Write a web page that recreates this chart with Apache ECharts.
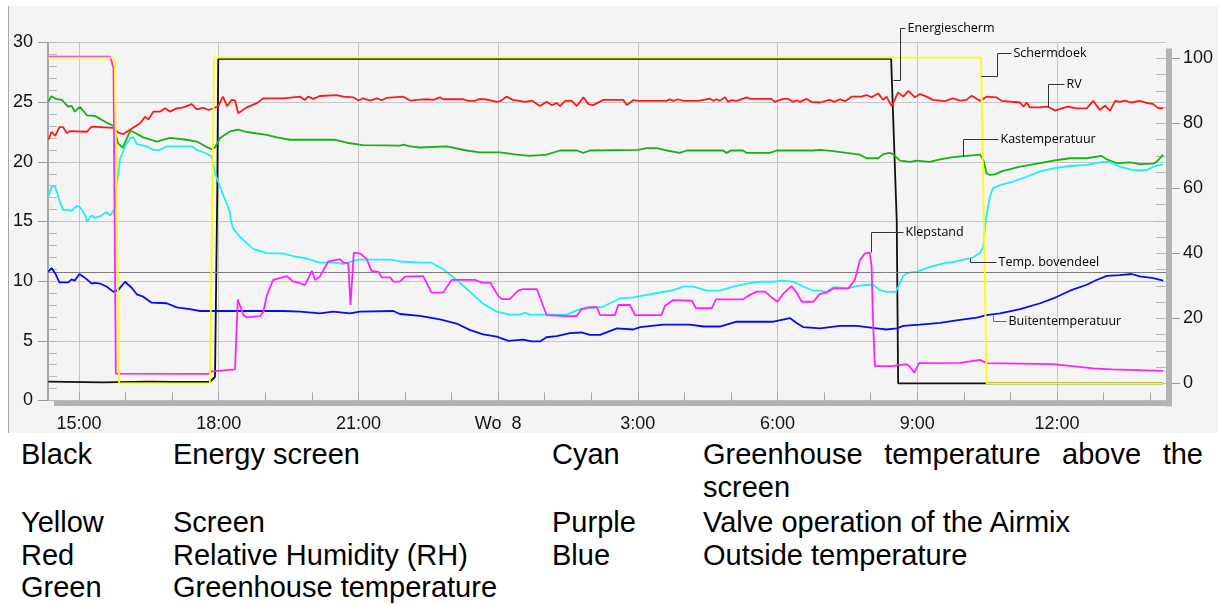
<!DOCTYPE html>
<html>
<head>
<meta charset="utf-8">
<title>Kasklimaat</title>
<script src="https://cdn.jsdelivr.net/npm/echarts@6/dist/echarts.min.js"></script>
<style>
  body { margin: 0; width: 1222px; height: 605px; overflow: hidden; position: relative; background: #fff;
         font-family: 'Liberation Sans', Arial, sans-serif; }
  #panel { position: absolute; left: 8px; top: 6px; width: 1210px; height: 427px; background: #f4f4f4; }
  #edge { position: absolute; left: 8px; top: 6px; width: 1px; height: 427px; background: #a8a8a8; }
  #main { position: absolute; left: 0; top: 0; width: 1210px; height: 427px; }
  .t { position: absolute; font-size: 29px; line-height: 33.3px; color: #000; white-space: nowrap; }
  .j { white-space: normal; text-align: justify; width: 500px; }
</style>
</head>
<body>
<div id="panel"><div id="main"></div></div>
<div id="edge"></div>

<div class="t" style="left:21px; top:438px">Black</div>
<div class="t" style="left:173px; top:438px">Energy screen</div>
<div class="t" style="left:552px; top:438px">Cyan</div>
<div class="t j" style="left:703px; top:438px">Greenhouse temperature above the screen</div>
<div class="t" style="left:21px; top:506px">Yellow</div>
<div class="t" style="left:173px; top:506px">Screen</div>
<div class="t" style="left:552px; top:506px">Purple</div>
<div class="t" style="left:703px; top:506px">Valve operation of the Airmix</div>
<div class="t" style="left:21px; top:539px">Red</div>
<div class="t" style="left:173px; top:539px">Relative Humidity (RH)</div>
<div class="t" style="left:552px; top:539px">Blue</div>
<div class="t" style="left:703px; top:539px">Outside temperature</div>
<div class="t" style="left:21px; top:571px">Green</div>
<div class="t" style="left:173px; top:571px">Greenhouse temperature</div>

<script>
// time = hours since midnight of the first day (24 = "Wo 8")
// right axis (%): screens, RV, klepstand ; left axis (°C): temperatures

const energiescherm = [
  [14.34, 0.5], [15.5, 0.3], [16.5, 0.5], [17.0, 0.4], [17.81, 0.4], [17.92, 2], [17.97, 60], [17.99, 99.8],
  [24, 99.8], [32.44, 99.8], [32.56, 50], [32.59, 0], [34.5, 0], [38.28, 0]
];

const schermdoek = [
  [14.34, 100.2], [15.74, 100.2], [15.77, 98], [15.86, 0], [17.81, 0], [17.9, 100.2],
  [34.37, 100.2], [34.40, 75], [34.49, 0], [38.28, 0]
];

const klepstand = [
  [14.34, 100.5], [15.67, 100.5], [15.74, 97], [15.79, 3], [17.78, 2.9], [17.85, 3.7], [18.35, 4.3],
  [18.41, 25.8], [18.53, 21], [18.60, 20.3], [18.89, 20.7], [18.96, 22], [19.03, 26.9], [19.17, 31.8],
  [19.46, 33], [19.60, 31.3], [19.75, 30.8], [19.85, 30.2], [20.00, 34.6], [20.07, 31.8], [20.17, 32.8],
  [20.35, 37.4], [20.60, 38.2], [20.68, 37.1], [20.78, 37], [20.83, 24.1], [20.90, 40.2], [21.03, 40],
  [21.18, 38.2], [21.28, 34.6], [21.43, 34.3], [21.50, 32.6], [21.68, 32.6], [21.75, 31.3], [21.89, 31.3],
  [22.00, 32.8], [22.39, 33], [22.57, 27.9], [22.82, 27.9], [23.00, 31.8], [23.50, 31.8], [23.65, 31],
  [23.83, 31], [24.00, 26.9], [24.08, 25.9], [24.25, 25.9], [24.43, 28.5], [24.54, 29], [24.83, 29],
  [25.04, 21], [25.47, 20.7], [25.69, 20.7], [25.79, 22.8], [25.94, 23.4], [26.12, 23.4], [26.19, 21],
  [26.51, 21], [26.58, 24.1], [26.83, 24.1], [26.94, 21], [27.51, 21], [27.58, 23.8], [27.76, 25.6],
  [28.16, 25.4], [28.25, 23.1], [28.59, 23.1], [28.68, 25.8], [29.26, 25.8], [29.37, 26.9], [29.55, 28.2],
  [29.73, 28.2], [29.87, 26.5], [30.00, 25.1], [30.12, 27.5], [30.30, 29.9], [30.41, 27.9], [30.52, 25.1],
  [30.77, 25.1], [30.91, 27.5], [31.05, 27.9], [31.20, 29.2], [31.52, 29.2], [31.66, 31.8], [31.77, 37.9],
  [31.88, 40], [31.98, 40.2], [32.02, 35.9], [32.05, 19.5], [32.09, 5.3], [32.45, 5.3], [32.77, 5.9],
  [32.84, 5.1], [32.94, 3.3], [33.04, 6.2], [33.92, 6.3], [34.35, 7.2], [34.49, 6.2], [35.92, 5.9],
  [36.78, 4.6], [37.19, 4.3], [38.28, 3.8]
];

const rv = [
  [14.34, 74.9], [14.41, 77.4], [14.49, 76.1], [14.58, 78.8], [14.66, 78.8], [14.74, 76.9], [14.81, 77.6],
  [15.17, 77.4], [15.27, 79], [15.74, 78.6], [15.84, 77.1], [15.95, 76.7], [16.06, 77.7], [16.31, 80],
  [16.42, 82], [16.49, 81.2], [16.60, 83.6], [16.74, 83.6], [16.85, 84.6], [16.95, 83.6], [17.10, 84.6],
  [17.24, 84.9], [17.42, 85.9], [17.53, 84.3], [17.67, 84.8], [17.78, 84.1], [17.88, 84.6], [17.99, 85.3],
  [18.09, 88.2], [18.18, 85.3], [18.28, 87.2], [18.35, 87], [18.42, 83.1], [18.60, 84.9], [18.82, 86.2],
  [18.96, 87.7], [19.39, 87.7], [19.75, 88.2], [19.85, 87.2], [19.92, 88.2], [20.03, 87.5], [20.17, 88.4],
  [20.53, 88.7], [20.68, 88.2], [20.89, 88], [21.00, 87], [21.10, 87.7], [21.25, 87], [21.40, 87.7],
  [21.50, 87.1], [21.60, 87.8], [21.96, 88.2], [22.11, 87], [22.32, 87.3], [22.47, 87.4], [22.61, 87.2],
  [22.75, 88], [22.82, 87.4], [23.25, 87.4], [23.36, 86.9], [23.50, 86.9], [23.58, 87.4], [23.72, 87.4],
  [23.97, 86.6], [24.04, 86.8], [24.18, 88.2], [24.32, 87.2], [24.36, 87.6], [24.58, 86.6], [24.72, 87],
  [24.90, 85.3], [25.04, 86.6], [25.15, 85.6], [25.26, 86.2], [25.33, 85.3], [25.44, 86.9], [25.58, 86.9],
  [25.69, 85.3], [25.83, 88], [25.94, 85.9], [26.04, 85.6], [26.26, 87.2], [26.69, 87.2], [26.76, 85.6],
  [26.90, 87.1], [27.01, 86.9], [27.62, 86.9], [27.69, 87.4], [27.76, 86.9], [27.86, 87.4], [27.98, 86.9],
  [28.30, 86.9], [28.34, 87.4], [28.55, 87.6], [28.62, 86.9], [28.69, 87.4], [28.76, 86.9], [28.87, 88],
  [28.94, 86.6], [29.01, 87.1], [29.12, 86.9], [29.34, 88], [29.41, 87.5], [29.87, 87.5], [29.94, 86.6],
  [30.12, 87.5], [30.23, 87.5], [30.34, 86.6], [30.41, 87.1], [30.48, 86.6], [30.62, 87.5], [30.73, 86.6],
  [30.91, 86.4], [31.12, 87.2], [31.22, 86.6], [31.34, 87.4], [31.45, 86.8], [31.59, 88.2], [31.80, 88.2],
  [31.91, 88.7], [32.02, 88], [32.16, 89.2], [32.27, 87.2], [32.34, 88.2], [32.45, 85.3], [32.59, 89.5],
  [32.70, 88.2], [32.81, 90], [32.95, 88], [33.06, 89], [33.20, 88.2], [33.34, 87.2], [33.60, 86.8],
  [33.77, 87.7], [33.92, 87], [34.06, 87.2], [34.17, 88.5], [34.35, 86.9], [34.49, 88.2], [34.70, 88],
  [34.81, 86.9], [35.21, 86.4], [35.28, 85.1], [35.35, 86.4], [35.42, 84.9], [35.60, 84.9], [35.81, 85.1],
  [35.96, 83.9], [36.10, 84.6], [36.24, 85.1], [36.42, 84.6], [36.64, 84.6], [36.78, 86.9], [36.92, 84.1],
  [37.03, 85.4], [37.14, 83.9], [37.25, 86.9], [37.35, 86.6], [37.46, 87], [37.60, 86.4], [37.78, 86.9],
  [37.89, 86.4], [38.07, 85.9], [38.18, 84.6], [38.28, 84.6]
];

const kastemperatuur = [
  [14.34, 25.05], [14.41, 25.5], [14.52, 25.25], [14.63, 25.2], [14.77, 24.6], [14.84, 24.7], [14.91, 24.2],
  [15.02, 24.6], [15.17, 23.9], [15.34, 23.85], [15.45, 23.6], [15.59, 23.3], [15.74, 23.0], [15.84, 21.55],
  [15.94, 21.2], [16.10, 22.6], [16.17, 22.5], [16.38, 22.05], [16.67, 21.7], [16.95, 22.0], [17.31, 21.85],
  [17.53, 21.7], [17.71, 21.3], [17.85, 21.05], [17.92, 21.2], [18.03, 22.0], [18.24, 22.55], [18.42, 22.7],
  [18.60, 22.5], [19.03, 22.25], [19.25, 22.05], [19.53, 21.85], [20.50, 21.85], [20.75, 21.6], [21.10, 21.4],
  [21.89, 21.35], [21.96, 21.45], [22.11, 21.3], [22.32, 21.2], [22.90, 21.3], [23.32, 20.95], [23.61, 20.8],
  [24.04, 20.8], [24.40, 20.6], [24.68, 20.5], [25.04, 20.6], [25.33, 20.95], [25.69, 20.95], [25.83, 20.75],
  [25.97, 20.95], [27.01, 21.0], [27.19, 21.15], [27.40, 21.15], [27.62, 20.95], [27.90, 20.75], [28.05, 20.95],
  [28.83, 20.95], [28.91, 20.75], [29.00, 20.95], [29.26, 20.95], [29.34, 20.75], [29.84, 20.75], [29.98, 20.95],
  [30.77, 20.95], [30.91, 21.0], [31.20, 20.9], [31.48, 20.75], [31.77, 20.6], [31.91, 20.3], [32.16, 20.3],
  [32.27, 20.65], [32.41, 20.75], [32.48, 20.65], [32.63, 20.1], [32.84, 20.0], [32.99, 20.1], [33.27, 20.0],
  [33.49, 20.2], [33.77, 20.4], [34.06, 20.5], [34.35, 20.6], [34.42, 20.15], [34.49, 19.05], [34.56, 18.9],
  [34.67, 18.95], [34.81, 19.2], [35.21, 19.6], [35.64, 19.9], [35.92, 20.1], [36.28, 20.3], [36.64, 20.3],
  [36.96, 20.5], [37.07, 20.2], [37.28, 19.9], [37.57, 19.95], [37.78, 19.8], [38.07, 19.85], [38.14, 20.0],
  [38.28, 20.6]
];

const tempBovendeel = [
  [14.34, 17.1], [14.41, 17.9], [14.49, 17.9], [14.59, 16.65], [14.66, 15.95], [14.74, 16.0], [14.84, 15.9],
  [14.95, 16.3], [15.02, 16.2], [15.13, 15.55], [15.17, 15.0], [15.27, 15.5], [15.34, 15.3], [15.48, 15.5],
  [15.59, 15.8], [15.67, 15.5], [15.77, 16.1], [15.79, 17.5], [15.88, 20.2], [15.99, 21.3], [16.10, 22.0],
  [16.17, 22.05], [16.24, 21.5], [16.45, 21.3], [16.60, 21.0], [16.74, 21.0], [16.88, 21.3], [17.42, 21.3],
  [17.53, 21.0], [17.74, 20.7], [17.85, 20.45], [17.92, 19.05], [18.03, 17.9], [18.24, 15.8], [18.26, 15.1],
  [18.31, 14.4], [18.46, 13.7], [18.74, 12.7], [19.03, 12.35], [19.39, 12.3], [19.60, 12.1], [19.89, 11.9],
  [20.17, 11.55], [20.46, 11.55], [20.68, 11.45], [20.78, 11.55], [21.00, 11.8], [21.68, 11.8], [21.89, 11.65],
  [22.32, 11.55], [22.57, 11.55], [22.82, 11.0], [23.11, 10.1], [23.40, 9.1], [23.68, 8.1], [23.97, 7.45],
  [24.25, 7.2], [24.47, 7.2], [24.58, 7.35], [24.68, 7.2], [25.11, 7.2], [25.47, 7.2], [25.76, 7.65],
  [25.97, 7.75], [26.26, 7.85], [26.40, 8.15], [26.62, 8.55], [26.90, 8.65], [27.19, 8.85], [27.48, 9.05],
  [27.76, 9.25], [27.98, 9.55], [28.19, 9.55], [28.48, 9.2], [28.76, 9.2], [29.05, 9.55], [29.34, 9.8],
  [29.62, 9.95], [29.91, 9.95], [30.09, 10.05], [30.34, 9.95], [30.55, 9.55], [30.77, 9.2], [30.91, 9.2],
  [31.05, 9.1], [31.20, 9.5], [31.52, 9.4], [31.70, 9.6], [31.98, 9.7], [32.05, 9.7], [32.20, 9.25],
  [32.34, 9.1], [32.54, 9.1], [32.70, 10.45], [32.81, 10.7], [32.99, 10.8], [33.27, 11.2], [33.63, 11.55],
  [33.77, 11.6], [33.99, 11.8], [34.20, 12.0], [34.35, 12.35], [34.42, 12.9], [34.47, 15.1], [34.56, 17.1],
  [34.63, 17.8], [34.78, 18.05], [35.06, 18.35], [35.35, 18.75], [35.64, 19.2], [35.92, 19.45], [36.28, 19.65],
  [36.64, 19.75], [36.99, 20.0], [37.14, 20.0], [37.35, 19.6], [37.64, 19.3], [37.92, 19.3], [38.07, 19.6],
  [38.28, 19.8]
];

const buitentemperatuur = [
  [14.34, 10.8], [14.41, 11.1], [14.49, 10.65], [14.58, 9.9], [14.77, 9.9], [14.84, 10.15], [14.91, 10.05],
  [15.01, 10.6], [15.17, 10.15], [15.27, 9.8], [15.34, 9.85], [15.45, 9.8], [15.59, 9.55], [15.74, 9.1],
  [15.84, 9.25], [15.99, 9.95], [16.13, 9.45], [16.24, 8.9], [16.38, 8.7], [16.56, 8.2], [16.88, 8.15],
  [17.10, 7.8], [17.38, 7.65], [17.60, 7.5], [18.60, 7.5], [19.39, 7.5], [19.75, 7.45], [20.17, 7.3],
  [20.46, 7.45], [20.82, 7.3], [21.03, 7.45], [21.75, 7.5], [21.89, 7.25], [22.32, 7.1], [22.75, 6.8],
  [23.11, 6.45], [23.40, 5.9], [23.68, 5.55], [23.97, 5.35], [24.22, 5.0], [24.54, 5.1], [24.72, 4.95],
  [24.90, 4.95], [25.04, 5.3], [25.26, 5.4], [25.54, 5.65], [25.79, 5.7], [25.97, 5.5], [26.19, 5.5],
  [26.55, 6.05], [26.90, 5.95], [27.05, 6.15], [27.55, 6.35], [28.12, 6.35], [28.41, 6.2], [28.76, 6.2],
  [29.12, 6.6], [29.91, 6.6], [30.27, 6.9], [30.41, 6.5], [30.55, 6.15], [30.91, 6.05], [31.34, 6.25],
  [31.70, 6.25], [32.13, 6.05], [32.34, 5.95], [32.56, 6.05], [32.70, 6.25], [33.06, 6.35], [33.49, 6.5],
  [33.92, 6.75], [34.28, 6.95], [34.49, 7.15], [34.78, 7.3], [35.21, 7.65], [35.64, 8.15], [35.92, 8.55],
  [36.28, 9.2], [36.64, 9.7], [36.85, 10.1], [37.07, 10.45], [37.35, 10.5], [37.60, 10.6], [37.78, 10.4],
  [38.07, 10.25], [38.28, 10.05]
];

// cursor line across the plot (left axis value)
const cursorLevel = 10.75;

// x tick labels
const labelHours = [15, 18, 21, 24, 27, 30, 33, 36];
const xLabels = ['15:00', '18:00', '21:00', 'Wo  8', '3:00', '6:00', '9:00', '12:00'];

// callout labels: text, anchor [hour, value, axis]
const annoLabels = ['Energiescherm', 'Schermdoek', 'RV', 'Kastemperatuur', 'Klepstand', 'Temp. bovendeel', 'Buitentemperatuur'];
const annoAnchors = [
  [32.48, 93.3, 'R'], [34.37, 94.6, 'R'], [35.81, 85.1, 'R'], [33.99, 20.5, 'L'],
  [32.00, 40.3, 'R'], [34.13, 11.9, 'L'], [34.62, 7.2, 'L']
];

const xMin = 14.334, xMax = 38.342;
const hourTicks = [];
for (let h = 15; h <= 38; h++) hourTicks.push(h);
const leftMinor = [];
for (let v = 0; v <= 30; v++) leftMinor.push(v);
const rightMinor = [];
for (let v = 0; v <= 100; v += 5) rightMinor.push(v);

const chart = echarts.init(document.getElementById('main'));

const labelFont = { fontSize: 18, color: '#141414', fontFamily: 'Liberation Sans' };

const mkLine = (name, data, color, right, z) => ({
  name: name,
  type: 'line',
  data: data,
  xAxisIndex: right ? 2 : 0,
  yAxisIndex: right ? 2 : 0,
  showSymbol: false,
  symbol: 'none',
  clip: false,
  z: z,
  lineStyle: { color: color, width: 1.8 },
  itemStyle: { color: color }
});

const blueSeries = mkLine('Buitentemperatuur', buitentemperatuur, '#0a0aee', false, 5);
blueSeries.markLine = {
  silent: true, symbol: 'none', label: { show: false },
  lineStyle: { color: '#7c7c7c', width: 1, type: 'solid' },
  data: [{ yAxis: cursorLevel }]
};

const option = {
  animation: false,
  grid: [
    { left: 40, top: 36.5, width: 1118, height: 358, containLabel: false, outerBoundsMode: 'none' },
    { left: 40, top: 52.3, width: 1118, height: 325, containLabel: false, outerBoundsMode: 'none' }
  ],
  xAxis: [
    {
      gridIndex: 0, type: 'value', min: xMin, max: xMax, position: 'bottom',
      axisLine: { show: false }, axisLabel: { show: false }, splitLine: { show: false },
      axisTick: { show: true, inside: true, length: 8, customValues: hourTicks, lineStyle: { color: '#a6a6a6' } }
    },
    {
      gridIndex: 0, type: 'value', min: xMin, max: xMax, position: 'bottom',
      axisLine: { show: false },
      axisTick: { show: false, customValues: labelHours },
      axisLabel: Object.assign({
        show: true, margin: 15, customValues: labelHours,
        formatter: (v) => xLabels[labelHours.indexOf(Math.round(v))]
      }, labelFont),
      splitLine: { show: true, lineStyle: { color: '#c6c6c6', width: 1 } }
    },
    { gridIndex: 1, type: 'value', min: xMin, max: xMax, show: false }
  ],
  yAxis: [
    {
      gridIndex: 0, type: 'value', min: 0, max: 30, interval: 5, position: 'left',
      axisLine: { show: true, lineStyle: { color: '#8c8c8c', width: 1.5 } },
      axisTick: { show: true, length: 10, lineStyle: { color: '#9a9a9a' } },
      axisLabel: Object.assign({ margin: 15 }, labelFont),
      splitLine: { show: true, lineStyle: { color: '#c6c6c6', width: 1 } }
    },
    {
      gridIndex: 0, type: 'value', min: 0, max: 30, position: 'left',
      axisLine: { show: false }, axisLabel: { show: false }, splitLine: { show: false },
      axisTick: { show: true, inside: true, length: 9, customValues: leftMinor, lineStyle: { color: '#b8b8b8' } }
    },
    {
      gridIndex: 1, type: 'value', min: 0, max: 100, interval: 20, position: 'right',
      axisLine: { show: false },
      axisTick: { show: true, length: 14, lineStyle: { color: '#9a9a9a' } },
      axisLabel: Object.assign({ margin: 17 }, labelFont),
      splitLine: { show: false }
    },
    {
      gridIndex: 1, type: 'value', min: 0, max: 100, position: 'right',
      axisLine: { show: false }, axisLabel: { show: false }, splitLine: { show: false },
      axisTick: { show: true, inside: true, length: 10, customValues: rightMinor, lineStyle: { color: '#b8b8b8' } }
    }
  ],
  series: [
    mkLine('Energiescherm', energiescherm, '#111111', true, 2),
    mkLine('RV', rv, '#ff1a1a', true, 3),
    mkLine('Kastemperatuur', kastemperatuur, '#18b018', false, 4),
    mkLine('Temp. bovendeel', tempBovendeel, '#1ff0f0', false, 4),
    blueSeries,
    mkLine('Klepstand', klepstand, '#ff22ff', true, 6),
    mkLine('Schermdoek', schermdoek, '#ffff00', true, 7)
  ]
};

chart.setOption(option);

// frame shadow and callouts, placed from the axes after layout
const g = option.grid[0];
const graphics = [
  { type: 'rect', z: 100, shape: { x: g.left + 6, y: g.top + g.height, width: g.width, height: 5.5 }, style: { fill: '#b3b3b3' } },
  { type: 'rect', z: 100, shape: { x: g.left + g.width, y: g.top + 6, width: 6, height: g.height }, style: { fill: '#b3b3b3' } }
];

const leaderPaths = [
  [[0, 0], [7, 0], [7, -52], [12, -52]],
  [[0, 0], [15.7, 0], [15.7, -22.4], [30, -22.4]],
  [[0, 0], [0, -22.4], [15.7, -22.4]],
  [[0, 0], [0, -16.7], [34.7, -16.7]],
  [[0, 0], [0, -20.6], [32.3, -20.6]],
  [[0, 0], [0, 3.7], [26, 3.7]],
  [[0, 0], [0, 6], [13.3, 6]]
];

annoAnchors.forEach((a, i) => {
  const finder = a[2] === 'R' ? { xAxisIndex: 2, yAxisIndex: 2 } : { xAxisIndex: 0, yAxisIndex: 0 };
  const p = chart.convertToPixel(finder, [a[0], a[1]]);
  const pts = leaderPaths[i].map(d => [Math.round(p[0] + d[0]) + 0.5, Math.round(p[1] + d[1]) + 0.5]);
  const end = pts[pts.length - 1];
  graphics.push({
    type: 'polyline', z: 110, shape: { points: pts },
    style: { stroke: i === 6 ? '#6e6e6e' : '#333', lineWidth: 1, fill: null }
  });
  graphics.push({
    type: 'text', z: 110,
    style: {
      text: annoLabels[i], x: end[0] + 2, y: end[1],
      fill: '#000', fontSize: 12.5, fontFamily: 'Open Sans', verticalAlign: 'middle'
    }
  });
});

chart.setOption({ graphic: graphics });
</script>
</body>
</html>
